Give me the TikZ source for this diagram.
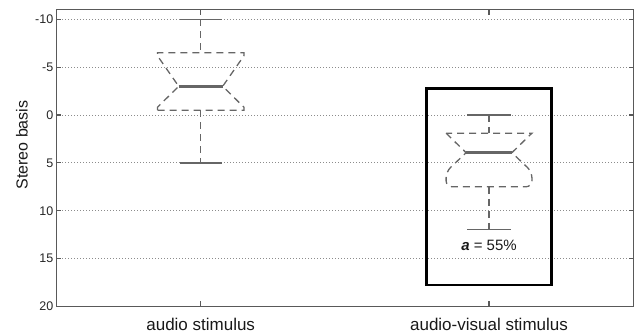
\documentclass[tikz,border=0pt]{standalone}
\usepackage{fontspec}
\setmainfont{Liberation Sans}
\usepackage{tikz}
\tikzstyle{assi} = [draw=black!65,line width=1.2pt]
\tikzstyle{griglia} = [draw=black!45,line width=0.9pt,dash pattern=on 1pt off 2pt]
\tikzstyle{baffo} = [draw=black!60,line width=1.3pt,dash pattern=on 7pt off 5pt]
\tikzstyle{cappuccio} = [draw=black!60,line width=1.3pt]
\tikzstyle{mediana} = [draw=black!60,line width=2.6pt]
\tikzstyle{riquadro} = [draw=black,line width=2.7pt]
\tikzstyle{numeroy} = [anchor=east,inner sep=0pt,text=black!85,font=\fontsize{12.5}{14}\selectfont]
\tikzstyle{nomex} = [inner sep=0pt,text=black!90,font=\fontsize{17}{20}\selectfont]

\begin{document}
\begin{tikzpicture}[x=1pt,y=-1pt]
\useasboundingbox (0,0) rectangle (637,334);

% 1 stereo step = 9.57pt, x positions 1 and 2 at 200.7 and 489

\coordinate (no) at (56.4,9.7);
\coordinate (ne) at (633.6,9.7);
\coordinate (so) at (56.4,306.4);
\coordinate (se) at (633.6,306.4);

\draw[griglia] (56.4,19.3) -- (633.6,19.3);
\draw[griglia] (56.4,67.15) -- (633.6,67.15);
\draw[griglia] (56.4,115) -- (633.6,115);
\draw[griglia] (56.4,162.85) -- (633.6,162.85);
\draw[griglia] (56.4,210.7) -- (633.6,210.7);
\draw[griglia] (56.4,258.55) -- (633.6,258.55);

\draw[assi] (no) rectangle (se);

\draw[assi] (56.4,19.3) -- ++(5,0) (633.6,19.3) -- ++(-5,0);
\draw[assi] (56.4,67.15) -- ++(5,0) (633.6,67.15) -- ++(-5,0);
\draw[assi] (56.4,115) -- ++(5,0) (633.6,115) -- ++(-5,0);
\draw[assi] (56.4,162.85) -- ++(5,0) (633.6,162.85) -- ++(-5,0);
\draw[assi] (56.4,210.7) -- ++(5,0) (633.6,210.7) -- ++(-5,0);
\draw[assi] (56.4,258.55) -- ++(5,0) (633.6,258.55) -- ++(-5,0);
\draw[assi] (200.7,306.4) -- ++(0,-5) (200.7,9.7) -- ++(0,5);
\draw[assi] (489,306.4) -- ++(0,-5) (489,9.7) -- ++(0,5);

\node (ym10) [numeroy] at (53.5,19.3) {-10};
\node (ym5)  [numeroy] at (53.5,67.15) {-5};
\node (y0)   [numeroy] at (53.5,115) {0};
\node (y5)   [numeroy] at (53.5,162.85) {5};
\node (y10)  [numeroy] at (53.5,210.7) {10};
\node (y15)  [numeroy] at (53.5,258.55) {15};
\node (y20)  [numeroy] at (53.5,306.4) {20};

\node (titoloy) [rotate=90,inner sep=0pt,text=black!90,font=\fontsize{16}{19}\selectfont] at (22,145) {Stereo basis};

\node (audio)  [nomex] at (200.7,324) {audio stimulus};
\node (audiov) [nomex] at (489,324) {audio-visual stimulus};

% audio stimulus
\draw[baffo] (200.7,19.3) -- (200.7,52.8);
\draw[baffo] (200.7,110.2) -- (200.7,162.85);
\draw[cappuccio] (179.7,19.3) -- (221.7,19.3);
\draw[cappuccio] (179.7,162.85) -- (221.7,162.85);
\draw[baffo] (157.4,110.2) -- (157.4,107.3) -- (178.7,86.3) -- (157.4,55.7) -- (157.4,52.8)
  -- (244,52.8) -- (244,55.7) -- (222.7,86.3) -- (244,107.3) -- (244,110.2) -- cycle;
\draw[mediana] (178.7,86.3) -- (222.7,86.3);

% audio-visual stimulus
\draw[baffo] (489,115) -- (489,133.2);
\draw[baffo] (489,186.8) -- (489,229.8);
\draw[cappuccio] (467.3,115) -- (510.7,115);
\draw[cappuccio] (467.3,229.8) -- (510.7,229.8);
\draw[baffo] (446.1,133.2) -- (466.1,152.7) [rounded corners=6pt] -- (446.1,171.7) -- (446.1,186.8)
  -- (531.9,186.8) -- (531.9,171.7) [sharp corners] -- (511.9,152.7) -- (531.9,133.2) -- cycle;
\draw[mediana] (466.1,152.7) -- (511.9,152.7);

\draw[riquadro] (426.7,88.3) rectangle (551.7,285);
\node (alfa) [inner sep=0pt,text=black!90,font=\fontsize{15}{18}\selectfont] at (489,245) {\textbf{\textit{a}} = 55\%};
\end{tikzpicture}
\end{document}
